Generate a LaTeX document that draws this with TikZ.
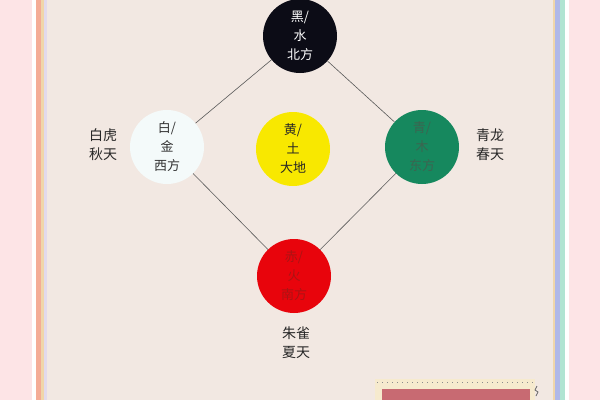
\documentclass[tikz,border=0pt]{standalone}
\usepackage{fontspec}
\newfontfamily\cjk{Noto Sans CJK SC}
\definecolor{outerpink}{RGB}{253,228,230}
\definecolor{paper}{RGB}{242,232,226}
\definecolor{stripeA}{RGB}{244,172,150}
\definecolor{stripeB}{RGB}{240,214,170}
\definecolor{stripeC}{RGB}{226,218,236}
\definecolor{stripeD}{RGB}{176,184,232}
\definecolor{stripeE}{RGB}{176,228,210}
\definecolor{cblack}{RGB}{12,12,22}
\definecolor{cwhite}{RGB}{244,250,250}
\definecolor{cyellow}{RGB}{248,232,0}
\definecolor{cgreen}{RGB}{22,136,94}
\definecolor{cred}{RGB}{232,4,12}
\definecolor{tgreen}{RGB}{60,100,80}
\definecolor{tred}{RGB}{170,20,20}
\definecolor{boxback}{RGB}{246,234,206}
\definecolor{boxrose}{RGB}{200,106,114}
\begin{document}
\begin{tikzpicture}[x=1pt,y=-1pt,
  elem/.style={circle,minimum size=74pt,inner sep=0pt,align=center,
    font=\cjk\fontsize{13}{19}\selectfont},
  lbl/.style={align=center,font=\cjk\fontsize{14}{19}\selectfont,text=black!85},
  link/.style={draw=black!65,line width=0.6pt}]
\useasboundingbox (0,0) rectangle (600,400);
\fill[outerpink] (0,0) rectangle (600,400);
\fill[white] (32,0) rectangle (36,400);
\fill[stripeA] (36,0) rectangle (41,400);
\fill[stripeB] (41,0) rectangle (44,400);
\fill[stripeC] (44,0) rectangle (47,400);
\fill[paper] (47,0) rectangle (553,400);
\fill[stripeB] (553,0) rectangle (555,400);
\fill[stripeD] (555,0) rectangle (560,400);
\fill[stripeE] (560,0) rectangle (565,400);
\fill[white] (565,0) rectangle (569,400);
% bottom-right box
\fill[boxback] (375,379) rectangle (535,400);
\draw[black!45,line width=1pt,dash pattern=on 1pt off 4pt] (377,382) -- (533,382);
\fill[boxrose] (382,389) rectangle (530,400);
\draw[black!60,line width=0.8pt] (537,386) -- (535,390) -- (538,392) -- (536,396);
% nodes
\node[elem,fill=cblack,text=white!85] (north) at (300,36) {黑/\\水\\北方};
\node[elem,fill=cwhite,text=black!80] (west) at (167,147) {白/\\金\\西方};
\node[elem,fill=cyellow,text=black!85] (center) at (293,149) {黄/\\土\\大地};
\node[elem,fill=cgreen,text=tgreen] (east) at (422,147) {青/\\木\\东方};
\node[elem,fill=cred,text=tred] (south) at (294,276) {赤/\\火\\南方};
\draw[link] (north) -- (west);
\draw[link] (north) -- (east);
\draw[link] (west) -- (south);
\draw[link] (east) -- (south);
\node[lbl] (wl) at (103,145) {白虎\\秋天};
\node[lbl] (el) at (490,145) {青龙\\春天};
\node[lbl] (sl) at (296,343) {朱雀\\夏天};
\end{tikzpicture}
\end{document}
